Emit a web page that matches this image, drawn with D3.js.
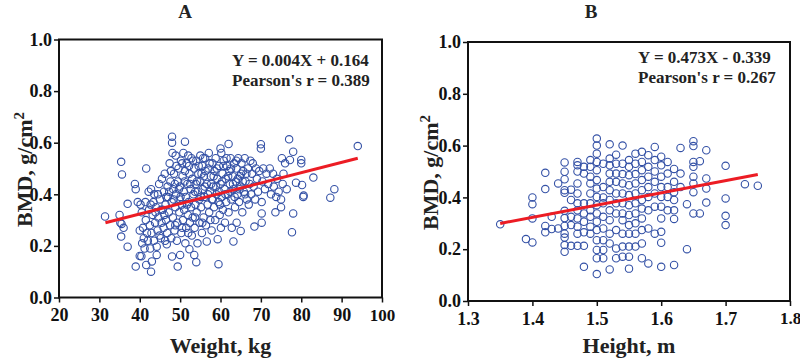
<!DOCTYPE html>
<html>
<head>
<meta charset="utf-8">
<script src="https://d3js.org/d3.v7.min.js"></script>
<style>
  body { margin: 0; background: #fff; }
  text { font-family: "Liberation Serif", "Times New Roman", serif; font-weight: bold; }
</style>
</head>
<body>
<div id="chart"></div>
<script>
"use strict";

// panel A: weight (kg) vs BMD
const pointsA = [
  [31.4,0.314],[35,0.32],[35.2,0.29],[35.5,0.285],[35.4,0.526],[35.6,0.477],[35.4,0.236],[36,0.27],
  [37,0.197],[37,0.363],[38.8,0.44],[39,0.42],[39,0.12],[40,0.161],[39.5,0.37],[40,0.26],
  [40.2,0.36],[40.5,0.33],[40.8,0.27],[41,0.23],[40.6,0.21],[41.2,0.19],[41.5,0.30],[41.8,0.25],
  [42,0.22],[41.4,0.37],[40.4,0.16],[41.6,0.126],[41.6,0.50],[42.3,0.34],[42.5,0.28],[42.2,0.41],
  [42.8,0.42],[42.6,0.19],[42.9,0.25],[42.8,0.10],[43,0.14],[43.2,0.32],[43.4,0.37],[43.5,0.22],
  [43.8,0.29],[43.6,0.40],[42.7,0.36],[43.9,0.33],
  [44,0.35],[44.2,0.165],[44.2,0.197],[44.4,0.26],[44.6,0.31],[44.8,0.44],[45,0.38],[45.2,0.23],
  [45.4,0.29],[45.5,0.46],[45.7,0.34],[45.9,0.27],[46,0.41],[46.2,0.48],[46.4,0.36],[46.5,0.30],
  [46.7,0.206],[46.8,0.25],[46.9,0.43],[47,0.39],[47.2,0.33],[47.4,0.52],[47.5,0.28],[47.6,0.45],
  [47.8,0.23],[47.9,0.37],[44.5,0.40],[45.3,0.34],[46.1,0.32],[46.6,0.39],[44.9,0.24],[46.3,0.22],
  [47.3,0.41],[47.7,0.49],
  [48,0.623],[48,0.60],[48,0.159],[48.1,0.56],[48.2,0.31],[48.3,0.42],[48.5,0.48],[48.6,0.26],
  [48.8,0.35],[48.9,0.55],[49,0.40],[49.2,0.22],[49.4,0.12],[49.3,0.29],[49.5,0.45],[49.6,0.50],
  [49.8,0.33],[49.9,0.38],[50,0.165],[50,0.43],[50.2,0.53],[50.3,0.25],[50.4,0.36],[50.6,0.47],
  [50.7,0.30],[50.8,0.56],[50.9,0.41],[48.4,0.38],[48.7,0.44],[49.1,0.51],[49.7,0.42],[50.1,0.39],
  [50.5,0.52],[48.8,0.28],[50.5,0.27],
  [51,0.34],[51.2,0.604],[51.2,0.49],[51.3,0.21],[51.4,0.39],[51.5,0.27],[51.6,0.52],[51.8,0.44],
  [51.9,0.32],[52,0.55],[52.1,0.37],[52.3,0.187],[52.3,0.48],[52.4,0.29],[52.6,0.42],[52.7,0.35],
  [52.8,0.54],[52.9,0.24],[53,0.46],[53.1,0.31],[53.3,0.40],[53.5,0.165],[53.5,0.50],[53.6,0.27],
  [53.8,0.36],[53.9,0.44],[51.1,0.45],[51.7,0.36],[52.2,0.51],[52.5,0.44],[53.2,0.53],[53.7,0.41],
  [52,0.25],[53.7,0.31],
  [54,0.137],[54,0.53],[54.1,0.33],[54.3,0.21],[54.4,0.41],[54.5,0.48],[54.7,0.38],[54.8,0.29],
  [55,0.55],[55,0.45],[55.2,0.35],[55.4,0.25],[55.5,0.51],[55.6,0.42],[55.8,0.31],[55.9,0.47],
  [56,0.39],[56.2,0.54],[56.4,0.28],[56.6,0.217],[56.6,0.44],[56.8,0.36],[57,0.50],[57.1,0.56],
  [57.2,0.33],[57.4,0.41],[57.6,0.47],[57.8,0.26],[57.9,0.38],[54.2,0.45],[54.6,0.51],[55.1,0.39],
  [55.3,0.48],[55.7,0.54],[56.1,0.43],[56.3,0.49],[56.9,0.40],[57.3,0.52],[57.7,0.44],[55.5,0.29],
  [57.5,0.30],
  [58,0.52],[58.2,0.43],[58.4,0.35],[58.5,0.49],[58.7,0.30],[58.8,0.54],[59,0.40],[59.2,0.46],
  [59.3,0.226],[59.5,0.129],[59.5,0.37],[59.6,0.51],[59.8,0.32],[60,0.578],[60,0.44],[60.1,0.27],
  [60.2,0.56],[60.3,0.39],[60.5,0.48],[60.6,0.34],[60.8,0.53],[61,0.42],[61.1,0.29],[61.3,0.46],
  [61.4,0.37],[61.6,0.51],[61.8,0.40],[62,0.595],[62,0.33],[62.2,0.49],[58.1,0.38],[58.3,0.47],
  [58.9,0.43],[59.1,0.50],[59.7,0.41],[60.4,0.45],[60.7,0.51],[61.2,0.40],[61.5,0.54],[61.9,0.47],
  [59.9,0.36],
  [62.3,0.44],[62.5,0.54],[62.7,0.38],[62.8,0.27],[63,0.47],[63.2,0.217],[63.2,0.42],[63.4,0.52],
  [63.6,0.35],[63.8,0.45],[64,0.29],[64,0.50],[64.2,0.40],[64.4,0.54],[64.6,0.37],[64.8,0.47],
  [65,0.258],[65,0.43],[65.2,0.52],[65.4,0.33],[65.6,0.49],[65.8,0.41],[66,0.54],[66.2,0.45],
  [66.5,0.38],[66.8,0.50],[62.4,0.41],[62.6,0.50],[63.1,0.44],[63.5,0.39],[63.9,0.53],[64.3,0.46],
  [64.7,0.42],[65.1,0.48],[65.5,0.45],[66.1,0.40],[66.4,0.48],
  [67,0.36],[67.2,0.44],[67.4,0.53],[67.6,0.40],[67.8,0.48],[68,0.52],[68.2,0.43],[68.4,0.275],
  [68.6,0.38],[68.8,0.50],[69,0.46],[69.3,0.41],[69.6,0.49],[70,0.594],[70,0.578],[70.2,0.29],
  [70.2,0.326],[70.2,0.37],[70.4,0.45],[70.6,0.50],[71,0.42],[71.4,0.48],[71.8,0.44],[72.2,0.50],
  [72.5,0.40],
  [73,0.48],[73.2,0.43],[73.6,0.33],[73.8,0.39],[74,0.46],[74.4,0.41],[75,0.35],[75,0.38],
  [75.2,0.54],[75.4,0.44],[75.6,0.48],[76,0.52],[76.4,0.42],[77,0.613],[77.2,0.533],[77.7,0.253],
  [78,0.565],[78,0.326],[78.7,0.445],
  [80,0.533],[80,0.52],[80.2,0.436],[80.5,0.39],[80.6,0.395],[83,0.465],[87.2,0.387],[88.2,0.42],
  [94,0.587]
];

// panel B: height (m) vs BMD
const pointsB = [
  [1.35,0.296],[1.39,0.239],
  [1.40,0.40],[1.40,0.374],[1.40,0.319],[1.40,0.226],
  [1.42,0.495],[1.42,0.432],[1.42,0.29],[1.42,0.265],
  [1.43,0.325],[1.43,0.278],[1.44,0.454],[1.44,0.28],
  [1.45,0.535],[1.45,0.499],[1.45,0.47],[1.45,0.428],[1.45,0.418],[1.45,0.348],[1.45,0.32],[1.45,0.29],
  [1.45,0.26],[1.45,0.245],[1.45,0.216],[1.45,0.19],
  [1.46,0.43],[1.46,0.39],[1.46,0.325],[1.46,0.293],[1.46,0.213],
  [1.47,0.537],[1.47,0.524],[1.47,0.50],[1.47,0.454],[1.47,0.415],[1.47,0.377],[1.47,0.35],[1.47,0.319],
  [1.47,0.287],[1.47,0.26],[1.47,0.213],
  [1.48,0.518],[1.48,0.492],[1.48,0.377],[1.48,0.338],[1.48,0.306],[1.48,0.265],[1.48,0.213],[1.48,0.132],
  [1.49,0.544],[1.49,0.518],[1.49,0.48],[1.49,0.454],[1.49,0.415],[1.49,0.377],[1.49,0.35],[1.49,0.325],
  [1.49,0.287],[1.49,0.26],
  [1.50,0.627],[1.50,0.60],[1.50,0.569],[1.50,0.537],[1.50,0.505],[1.50,0.467],[1.50,0.434],[1.50,0.402],
  [1.50,0.37],[1.50,0.338],[1.50,0.306],[1.50,0.274],[1.50,0.235],[1.50,0.197],[1.50,0.165],[1.50,0.104],
  [1.51,0.53],[1.51,0.44],[1.51,0.40],[1.51,0.377],[1.51,0.325],[1.51,0.28],[1.51,0.235],[1.51,0.197],
  [1.51,0.165],
  [1.52,0.605],[1.52,0.55],[1.52,0.524],[1.52,0.492],[1.52,0.46],[1.52,0.428],[1.52,0.39],[1.52,0.35],
  [1.52,0.312],[1.52,0.26],[1.52,0.222],[1.52,0.122],
  [1.53,0.565],[1.53,0.53],[1.53,0.492],[1.53,0.46],[1.53,0.415],[1.53,0.377],[1.53,0.338],[1.53,0.274],
  [1.53,0.203],[1.53,0.165],
  [1.54,0.60],[1.54,0.53],[1.54,0.49],[1.54,0.454],[1.54,0.415],[1.54,0.377],[1.54,0.338],[1.54,0.312],
  [1.54,0.26],[1.54,0.21],[1.54,0.171],
  [1.55,0.544],[1.55,0.518],[1.55,0.486],[1.55,0.447],[1.55,0.409],[1.55,0.37],[1.55,0.332],[1.55,0.293],
  [1.55,0.26],[1.55,0.21],[1.55,0.171],[1.55,0.125],
  [1.56,0.569],[1.56,0.53],[1.56,0.49],[1.56,0.454],[1.56,0.415],[1.56,0.377],[1.56,0.338],[1.56,0.30],
  [1.56,0.26],[1.56,0.21],
  [1.57,0.576],[1.57,0.537],[1.57,0.505],[1.57,0.467],[1.57,0.428],[1.57,0.39],[1.57,0.357],[1.57,0.319],
  [1.57,0.274],[1.57,0.222],[1.57,0.165],
  [1.58,0.563],[1.58,0.518],[1.58,0.48],[1.58,0.44],[1.58,0.402],[1.58,0.35],[1.58,0.28],[1.58,0.145],
  [1.59,0.595],[1.59,0.544],[1.59,0.50],[1.59,0.46],[1.59,0.415],[1.59,0.364],[1.59,0.26],
  [1.60,0.557],[1.60,0.524],[1.60,0.48],[1.60,0.44],[1.60,0.402],[1.60,0.364],[1.60,0.319],[1.60,0.267],
  [1.60,0.225],[1.60,0.132],
  [1.61,0.537],[1.61,0.492],[1.61,0.44],[1.61,0.402],[1.61,0.35],
  [1.62,0.51],[1.62,0.46],[1.62,0.42],[1.62,0.39],[1.62,0.35],[1.62,0.317],[1.62,0.139],
  [1.63,0.591],[1.63,0.492],[1.63,0.44],[1.64,0.374],[1.64,0.20],
  [1.65,0.617],[1.65,0.598],[1.65,0.537],[1.65,0.518],[1.65,0.48],[1.65,0.454],[1.65,0.42],[1.65,0.338],
  [1.66,0.54],[1.66,0.338],
  [1.67,0.582],[1.67,0.473],[1.67,0.434],[1.67,0.38],
  [1.70,0.522],[1.70,0.396],[1.70,0.329],[1.70,0.293],
  [1.73,0.451],[1.75,0.445]
];

// regression fits: [slope, intercept], x-range of fit line
const fitA = [0.004, 0.164];
const fitB = [0.473, -0.339];
const fitRangeA = [31.5, 94];
const fitRangeB = [1.35, 1.75];

const yTicks = [0, 0.2, 0.4, 0.6, 0.8, 1.0];
const xTicksA = [20, 30, 40, 50, 60, 70, 80, 90, 100];
const xTicksB = [1.3, 1.4, 1.5, 1.6, 1.7, 1.8];

const svg = d3.select("#chart").append("svg")
    .attr("width", 800)
    .attr("height", 360);

const panelA = { left: 59, right: 382, top: 39.5, bottom: 297.5,
    title: "A", titleX: 185, xLabel: "Weight, kg", yLabelX: 32, eqX: 232, eqY: 66,
    eq: "Y = 0.004X + 0.164", r: "Pearson's r = 0.389" };
const panelB = { left: 468, right: 790, top: 42, bottom: 301,
    title: "B", titleX: 591, xLabel: "Height, m", yLabelX: 438, eqX: 638, eqY: 63,
    eq: "Y = 0.473X - 0.339", r: "Pearson's r = 0.267" };

drawPanel(panelA, pointsA, [20, 100], xTicksA, d3.format("d"), fitA, fitRangeA);
drawPanel(panelB, pointsB, [1.3, 1.8], xTicksB, d3.format(".1f"), fitB, fitRangeB);

function drawPanel(p, pts, xDomain, xTicks, xFmt, fit, fitRange) {
    let g = svg.append("g");

    let xScale = d3.scaleLinear().domain(xDomain).range([p.left, p.right]);
    let yScale = d3.scaleLinear().domain([0, 1]).range([p.bottom, p.top]);

    // axes (ticks outward), frame drawn separately
    let xAxis = d3.axisBottom(xScale).tickValues(xTicks).tickFormat(xFmt)
        .tickSizeInner(5).tickSizeOuter(0).tickPadding(6);
    let gx = g.append("g")
        .attr("transform", "translate(0," + p.bottom + ")")
        .call(xAxis);

    let yAxis = d3.axisLeft(yScale).tickValues(yTicks).tickFormat(d3.format(".1f"))
        .tickSizeInner(5).tickSizeOuter(0).tickPadding(2);
    let gy = g.append("g")
        .attr("transform", "translate(" + p.left + ",0)")
        .call(yAxis);

    [gx, gy].forEach((a) => {
        a.select(".domain").remove();
        a.selectAll(".tick line").attr("stroke", "#111").attr("stroke-width", 1.5);
        a.selectAll(".tick text")
            .attr("fill", "#111")
            .style("font-family", "'Liberation Serif', serif")
            .style("font-weight", "bold")
            .style("font-size", "18px");
    });
    // keep last x label inside the page
    gx.selectAll(".tick:last-of-type text").style("font-size", "17px");

    // points
    g.append("g").selectAll("circle")
        .data(pts)
        .enter()
        .append("circle")
        .attr("cx", (d) => xScale(d[0]))
        .attr("cy", (d) => yScale(d[1]))
        .attr("r", 3.7)
        .attr("fill", "none")
        .attr("stroke", "#3451a6")
        .attr("stroke-width", 1.1);

    // regression line
    let line = d3.line()
        .x((d) => xScale(d))
        .y((d) => yScale(fit[0] * d + fit[1]));
    g.append("path")
        .datum(fitRange)
        .attr("d", line)
        .attr("fill", "none")
        .attr("stroke", "#ec1c24")
        .attr("stroke-width", 3);

    // frame
    g.append("rect")
        .attr("x", p.left)
        .attr("y", p.top)
        .attr("width", p.right - p.left)
        .attr("height", p.bottom - p.top)
        .attr("fill", "none")
        .attr("stroke", "#111")
        .attr("stroke-width", 2);

    // equation text
    g.append("text")
        .attr("x", p.eqX).attr("y", p.eqY)
        .style("font-size", "17px")
        .attr("fill", "#222")
        .text(p.eq);
    g.append("text")
        .attr("x", p.eqX).attr("y", p.eqY + 20)
        .style("font-size", "17px")
        .attr("fill", "#222")
        .text(p.r);

    // title
    g.append("text")
        .attr("x", p.titleX).attr("y", 18)
        .attr("text-anchor", "middle")
        .style("font-size", "19px")
        .attr("fill", "#222")
        .text(p.title);

    // x label
    let cx = (p.left + p.right) / 2;
    g.append("text")
        .attr("x", cx).attr("y", 353)
        .attr("text-anchor", "middle")
        .style("font-size", "22px")
        .attr("fill", "#222")
        .text(p.xLabel);

    // y label with superscript
    let yl = g.append("text")
        .attr("transform", "translate(" + p.yLabelX + "," + ((p.top + p.bottom) / 2 + 1) + ") rotate(-90)")
        .attr("text-anchor", "middle")
        .style("font-size", "22px")
        .attr("fill", "#222");
    yl.append("tspan").text("BMD, g/cm");
    yl.append("tspan").attr("dy", -8).style("font-size", "15px").text("2");
}
</script>
</body>
</html>
